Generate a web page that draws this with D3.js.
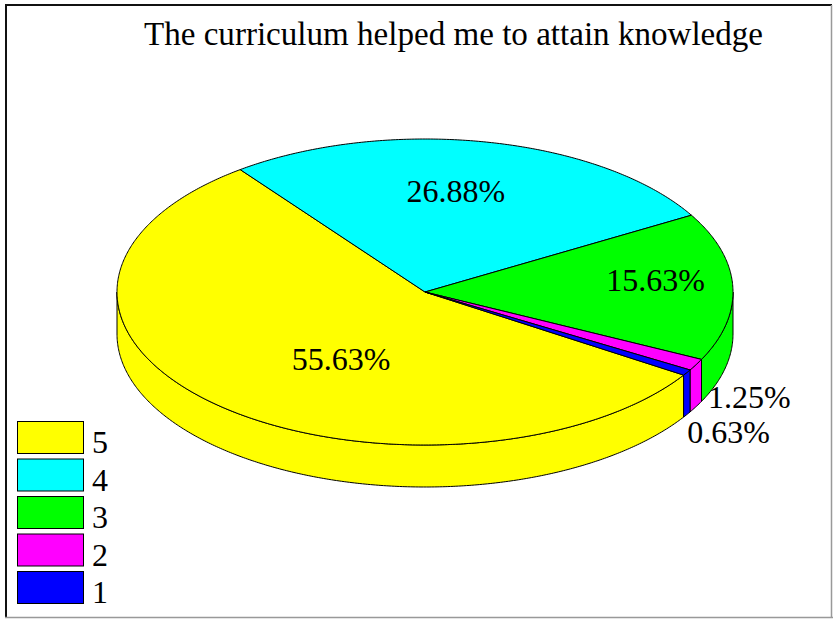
<!DOCTYPE html>
<html><head><meta charset="utf-8">
<script src="https://cdn.jsdelivr.net/npm/d3@7"></script>
<style>html,body{margin:0;padding:0;background:#fff;}svg{display:block;}</style>
</head><body>
<svg id="chart" width="833" height="619"></svg>
<script>
const title = "The curriculum helped me to attain knowledge";
const categories = ["5", "4", "3", "2", "1"];
const values = [55.63, 26.88, 15.63, 1.25, 0.63];
const labels = ["55.63%", "26.88%", "15.63%", "1.25%", "0.63%"];
const colors = ["#ffff00", "#00ffff", "#00ff00", "#ff00ff", "#0000ff"];
// label placement factors (relative to ellipse radii) along each slice's mid-angle
const labelFx = [0.40, 0.50, 0.749, 1.197, 1.159];
const labelFy = [0.60, 0.674, 2.2, 1.436, 1.732];

const svg = d3.select("#chart");
const cx = 425, cy = 292, rx = 308, ry = 153, depth = 42;
const FONT = "'Liberation Serif','Times New Roman',serif";

// frame
svg.append("line").attr("x1",6).attr("y1",5).attr("x2",832).attr("y2",5).attr("stroke","#111").attr("stroke-width",2);
svg.append("line").attr("x1",6).attr("y1",4).attr("x2",6).attr("y2",618).attr("stroke","#111").attr("stroke-width",2);
svg.append("line").attr("x1",5).attr("y1",617.5).attr("x2",833).attr("y2",617.5).attr("stroke","#999").attr("stroke-width",1.5);
svg.append("line").attr("x1",831.5).attr("y1",5).attr("x2",831.5).attr("y2",618).attr("stroke","#999").attr("stroke-width",1.5);

svg.append("text").attr("x",144).attr("y",45)
  .attr("textLength",619).attr("lengthAdjust","spacingAndGlyphs")
  .attr("font-family",FONT).attr("font-size",33).attr("fill","#000").text(title);

const data = categories.map((c,i)=>({cat:c, value:values[i], label:labels[i], color:colors[i], fx:labelFx[i], fy:labelFy[i]}));
const deg = Math.PI/180;
const start = 122.9*deg;
const pie = d3.pie().value(d=>d.value).sort(null).startAngle(start).endAngle(start+2*Math.PI);
const arcs = pie(data);

const px = a => cx + rx*Math.sin(a);
const py = (a, dz=0) => cy - ry*Math.cos(a) + dz;
const line = d3.line();

function arcPts(a0, a1, dz) {
  const n = Math.max(2, Math.ceil(Math.abs(a1-a0)/(0.5*deg)));
  return d3.range(n+1).map(i => { const a = a0 + (a1-a0)*i/n; return [px(a), py(a,dz)]; });
}

const gSide = svg.append("g");
const gTop = svg.append("g");

// sides: visible where pie angle in [90deg, 270deg] (+k*360)
arcs.forEach(d => {
  for (let k = 0; k < 2; k++) {
    const lo = (90 + 360*k)*deg, hi = (270 + 360*k)*deg;
    const a0 = Math.max(d.startAngle, lo), a1 = Math.min(d.endAngle, hi);
    if (a1 > a0) {
      const pts = arcPts(a0, a1, 0).concat(arcPts(a1, a0, depth));
      gSide.append("path").attr("d", line(pts) + "Z")
        .attr("fill", d.data.color).attr("stroke","#000").attr("stroke-width",1).attr("stroke-linejoin","round");
    }
  }
});

// top faces
arcs.forEach(d => {
  const pts = [[cx,cy]].concat(arcPts(d.startAngle, d.endAngle, 0));
  gTop.append("path").attr("d", line(pts) + "Z")
    .attr("fill", d.data.color).attr("stroke","#000").attr("stroke-width",1).attr("stroke-linejoin","round");
});

// labels
arcs.forEach(d => {
  const m = (d.startAngle + d.endAngle)/2;
  const x = cx + rx*d.data.fx*Math.sin(m);
  const y = cy - ry*d.data.fy*Math.cos(m);
  svg.append("text").attr("x",x).attr("y",y).attr("dy","0.35em").attr("text-anchor","middle")
    .attr("font-family",FONT).attr("font-size",32).attr("fill","#000").text(d.data.label);
});

// legend
const ly = d3.scaleBand().domain(categories).range([421, 421+37.5*5]).paddingInner(0);
const lg = svg.append("g");
categories.forEach((c,i) => {
  lg.append("rect").attr("x",17.5).attr("y",ly(c)+0.5).attr("width",66).attr("height",32)
    .attr("fill",colors[i]).attr("stroke","#000").attr("stroke-width",1);
  lg.append("text").attr("x",92).attr("y",ly(c)+32).attr("font-family",FONT).attr("font-size",32)
    .attr("fill","#000").text(c);
});
</script>
</body></html>
